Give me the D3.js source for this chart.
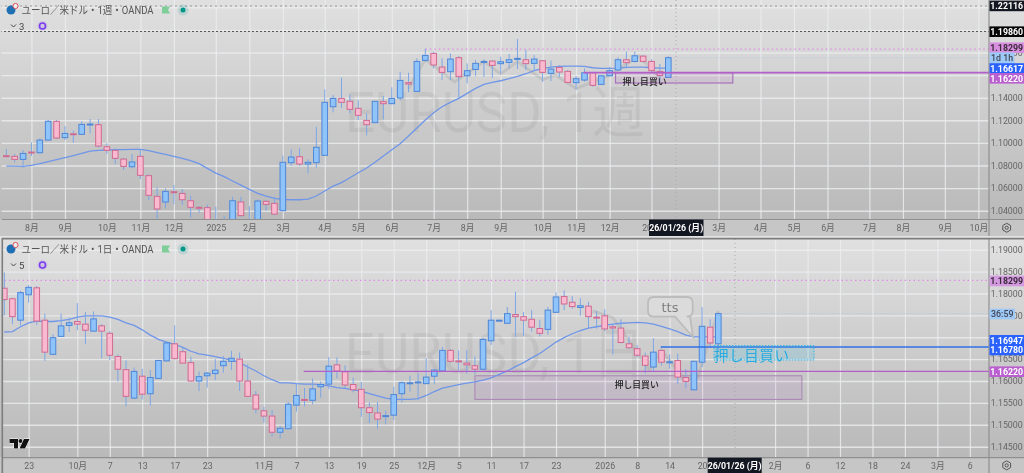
<!DOCTYPE html>
<html><head><meta charset="utf-8">
<script src="https://cdn.jsdelivr.net/npm/d3@7/dist/d3.min.js"></script>
<style>
html,body{margin:0;padding:0;background:#e4e4e4;overflow:hidden}
svg{display:block;filter:blur(.4px)}
text{font-family:Roboto,"Noto Sans CJK JP",sans-serif}
</style></head><body>
<svg id="c" width="1024" height="473"></svg>
<script>
// ---------- weekly chart ----------
const wkOpen=[1.0887,1.0881,1.0854,1.0919,1.0913,1.1025,1.1191,1.1046,1.1081,1.1076,
1.1161,1.1161,1.0966,1.0934,1.0857,1.0789,1.0881,1.0710,1.0527,1.0477,
1.0568,1.0553,1.0488,1.0430,1.0427,1.0199,1.0229,1.0258,1.0477,1.0229,
1.0288,1.0483,1.0465,1.0400,1.0825,1.0878,1.0813,1.0825,1.0890,1.1320,
1.1394,1.1368,1.1306,1.1199,1.1179,1.1365,1.1347,1.1397,1.1533,1.1456,
1.1730,1.1792,1.1671,1.1630,1.1754,1.1594,1.1650,1.1712,1.1724,1.1701,
1.1712,1.1739,1.1736,1.1704,1.1727,1.1615,1.1668,1.1633,1.1533,1.1556,
1.1621,1.1518,1.1594,1.1645,1.1736,1.1721,1.1768,1.1721,1.1633,1.1580];
const wkHigh=[1.0946,1.0902,1.0937,1.1002,1.1040,1.1202,1.1202,1.1149,1.1108,1.1191,
1.1211,1.1211,1.0996,1.0952,1.0866,1.0902,1.0937,1.0722,1.0606,1.0598,
1.0627,1.0592,1.0530,1.0441,1.0453,1.0435,1.0353,1.0524,1.0524,1.0441,
1.0500,1.0494,1.0524,1.0887,1.0943,1.0955,1.0854,1.1143,1.1474,1.1424,
1.1577,1.1430,1.1379,1.1261,1.1368,1.1415,1.1492,1.1630,1.1621,1.1748,
1.1833,1.1807,1.1748,1.1792,1.1768,1.1704,1.1733,1.1739,1.1733,1.1763,
1.1786,1.1919,1.1822,1.1777,1.1733,1.1727,1.1689,1.1645,1.1591,1.1659,
1.1630,1.1600,1.1674,1.1757,1.1807,1.1807,1.1777,1.1739,1.1698,1.1768];
const wkLow=[1.0872,1.0828,1.0780,1.0884,1.0907,1.1020,1.1037,1.1025,1.1002,1.1070,
1.1084,1.0960,1.0902,1.0813,1.0760,1.0775,1.0680,1.0494,1.0303,1.0421,
1.0459,1.0453,1.0338,1.0382,1.0199,1.0140,1.0199,1.0229,1.0347,1.0199,
1.0258,1.0400,1.0362,1.0394,1.0798,1.0798,1.0730,1.0780,1.0887,1.1270,
1.1309,1.1261,1.1202,1.1067,1.1179,1.1208,1.1347,1.1374,1.1448,1.1453,
1.1718,1.1659,1.1556,1.1556,1.1394,1.1527,1.1591,1.1586,1.1577,1.1609,
1.1659,1.1653,1.1645,1.1639,1.1541,1.1547,1.1580,1.1533,1.1474,1.1541,
1.1497,1.1512,1.1591,1.1639,1.1659,1.1712,1.1712,1.1621,1.1527,1.1577];
const wkClose=[1.0878,1.0854,1.0907,1.0913,1.1025,1.1191,1.1043,1.1084,1.1073,1.1164,
1.1167,1.0972,1.0934,1.0863,1.0792,1.0831,1.0713,1.0536,1.0415,1.0571,
1.0562,1.0497,1.0430,1.0421,1.0258,1.0288,1.0294,1.0488,1.0356,1.0288,
1.0486,1.0456,1.0370,1.0828,1.0875,1.0813,1.0828,1.0961,1.1359,1.1394,
1.1359,1.1297,1.1244,1.1161,1.1368,1.1347,1.1394,1.1553,1.1521,1.1721,
1.1774,1.1689,1.1624,1.1742,1.1586,1.1639,1.1704,1.1721,1.1686,1.1718,
1.1736,1.1748,1.1701,1.1742,1.1624,1.1653,1.1627,1.1535,1.1568,1.1621,
1.1509,1.1594,1.1639,1.1736,1.1710,1.1771,1.1721,1.1639,1.1597,1.1754];
const wkMA=[1.0795,1.0795,1.0792,1.0801,1.0816,1.0834,1.0851,1.0869,1.0887,1.0907,
1.0928,1.0934,1.0937,1.0940,1.0940,1.0943,1.0943,1.0931,1.0913,1.0899,
1.0881,1.0863,1.0843,1.0816,1.0775,1.0733,1.0701,1.0663,1.0627,1.0589,
1.0553,1.0530,1.0509,1.0500,1.0497,1.0497,1.0503,1.0530,1.0574,1.0618,
1.0648,1.0692,1.0736,1.0778,1.0828,1.0884,1.0940,1.0993,1.1061,1.1132,
1.1202,1.1267,1.1320,1.1359,1.1394,1.1438,1.1483,1.1518,1.1536,1.1550,
1.1568,1.1589,1.1612,1.1639,1.1659,1.1671,1.1677,1.1680,1.1680,1.1677,
1.1665,1.1659,1.1659,1.1662,1.1668,1.1671,1.1671,1.1665,1.1662,1.1662];
const wkTickIndex=[3,7,12,16,20,25,29,33,38,42,46,51,55,59,64,68,72,77,85,90,94,98,103,107,112,116];
const wkTickLabel=["8月","9月","10月","11月","12月","2025","2月","3月","4月","5月","6月","7月","8月","9月","10月","11月","12月","2026","3月","4月","5月","6月","7月","8月","9月","10月"];
const wkPriceTicks=[1.04,1.06,1.08,1.10,1.12,1.14,1.16,1.18,1.20,1.22];
const wkPriceLabelled=[1.04,1.06,1.08,1.10,1.12,1.14,1.18];
const wkZigIndex=[48,50,53.5,57,59,61,64,65.5,68,72,75.5,78];
const wkZigPrice=[1.148,1.174,1.154,1.172,1.161,1.172,1.156,1.160,1.148,1.160,1.177,1.158];

// ---------- daily chart ----------
const dyOpen=[1.1812,1.1788,1.1739,1.1797,1.1813,1.1739,1.1661,1.1702,1.1727,1.1736,
1.1730,1.1714,1.1726,1.1709,1.1656,1.1626,1.1561,1.1611,1.1571,1.1606,
1.1646,1.1685,1.1667,1.1642,1.1600,1.1612,1.1617,1.1635,1.1645,1.1650,
1.1600,1.1568,1.1532,1.1520,1.1483,1.1491,1.1545,1.1558,1.1556,1.1587,
1.1593,1.1637,1.1621,1.1592,1.1581,1.1539,1.1527,1.1520,1.1522,1.1571,
1.1594,1.1596,1.1594,1.1611,1.1623,1.1670,1.1646,1.1641,1.1635,1.1627,
1.1692,1.1737,1.1732,1.1752,1.1747,1.1741,1.1720,1.1718,1.1757,1.1793,
1.1780,1.1768,1.1771,1.1746,1.1749,1.1724,1.1721,1.1685,1.1674,1.1657,
1.1632,1.1670,1.1643,1.1647,1.1608,1.1580,1.1643,1.1723,1.1685];
const dyHigh=[1.1848,1.1790,1.1806,1.1819,1.1817,1.1754,1.1707,1.1754,1.1745,1.1778,
1.1758,1.1759,1.1730,1.1714,1.1661,1.1647,1.1631,1.1628,1.1625,1.1648,
1.1691,1.1727,1.1676,1.1656,1.1622,1.1621,1.1650,1.1657,1.1669,1.1665,
1.1638,1.1577,1.1541,1.1534,1.1498,1.1552,1.1593,1.1584,1.1606,1.1599,
1.1655,1.1654,1.1636,1.1608,1.1598,1.1551,1.1552,1.1532,1.1587,1.1599,
1.1612,1.1618,1.1652,1.1628,1.1678,1.1673,1.1670,1.1671,1.1656,1.1699,
1.1762,1.1740,1.1769,1.1804,1.1758,1.1762,1.1740,1.1769,1.1802,1.1807,
1.1794,1.1789,1.1781,1.1760,1.1764,1.1730,1.1741,1.1701,1.1682,1.1665,
1.1698,1.1671,1.1661,1.1663,1.1627,1.1646,1.1769,1.1741,1.1756];
const dyLow=[1.1750,1.1730,1.1727,1.1779,1.1728,1.1646,1.1660,1.1701,1.1712,1.1716,
1.1684,1.1713,1.1652,1.1648,1.1599,1.1542,1.1560,1.1558,1.1544,1.1606,
1.1645,1.1650,1.1640,1.1599,1.1577,1.1585,1.1602,1.1619,1.1625,1.1577,
1.1564,1.1526,1.1505,1.1473,1.1469,1.1491,1.1530,1.1542,1.1547,1.1562,
1.1581,1.1606,1.1584,1.1574,1.1518,1.1504,1.1491,1.1501,1.1511,1.1551,
1.1576,1.1556,1.1593,1.1593,1.1622,1.1642,1.1625,1.1617,1.1615,1.1625,
1.1682,1.1737,1.1731,1.1701,1.1703,1.1713,1.1702,1.1706,1.1756,1.1762,
1.1765,1.1749,1.1720,1.1720,1.1714,1.1660,1.1686,1.1673,1.1654,1.1617,
1.1623,1.1635,1.1628,1.1593,1.1583,1.1579,1.1632,1.1676,1.1669];
const dyClose=[1.1786,1.1747,1.1802,1.1814,1.1737,1.1666,1.1699,1.1726,1.1733,1.1730,
1.1716,1.1742,1.1714,1.1659,1.1627,1.1565,1.1622,1.1570,1.1608,1.1647,
1.1687,1.1651,1.1641,1.1600,1.1610,1.1618,1.1625,1.1645,1.1652,1.1600,
1.1565,1.1536,1.1520,1.1483,1.1492,1.1547,1.1567,1.1558,1.1582,1.1592,
1.1634,1.1623,1.1591,1.1580,1.1539,1.1528,1.1513,1.1521,1.1569,1.1596,
1.1596,1.1598,1.1609,1.1625,1.1670,1.1645,1.1644,1.1637,1.1627,1.1695,
1.1739,1.1739,1.1754,1.1747,1.1739,1.1723,1.1709,1.1762,1.1792,1.1776,
1.1770,1.1772,1.1747,1.1746,1.1719,1.1721,1.1688,1.1676,1.1659,1.1636,
1.1666,1.1643,1.1644,1.1609,1.1599,1.1645,1.1725,1.1687,1.1754];
const dyMA=[1.1712,1.1713,1.1724,1.1733,1.1737,1.1736,1.1736,1.1738,1.1741,1.1746,
1.1749,1.1749,1.1749,1.1746,1.1741,1.1733,1.1727,1.1717,1.1705,1.1695,
1.1689,1.1684,1.1677,1.1668,1.1662,1.1659,1.1656,1.1652,1.1648,1.1642,
1.1632,1.1623,1.1612,1.1603,1.1596,1.1596,1.1594,1.1593,1.1593,1.1592,
1.1589,1.1585,1.1583,1.1580,1.1577,1.1571,1.1566,1.1561,1.1558,1.1558,
1.1558,1.1560,1.1567,1.1576,1.1584,1.1588,1.1592,1.1595,1.1598,1.1602,
1.1607,1.1615,1.1623,1.1633,1.1642,1.1653,1.1663,1.1676,1.1689,1.1699,
1.1708,1.1715,1.1721,1.1724,1.1727,1.1730,1.1732,1.1733,1.1734,1.1733,
1.1730,1.1725,1.1719,1.1713,1.1705,1.1701,1.1701,1.1701,1.1701];
const dyTickIndex=[3,9,13,17,21,25,32,36,40,44,48,52,56,60,64,68,74,78,82,86,95,99,103,107,111,115,119];
const dyTickLabel=["23","10月","7","13","17","23","11月","7","13","19","25","12月","5","11","17","23","2026","8","14","20","2月","6","12","18","24","3月","6"];
const dyPriceTicks=[1.145,1.15,1.155,1.16,1.165,1.17,1.175,1.18,1.185,1.19];
const dyPriceLabelled=[1.145,1.15,1.155,1.16,1.165,1.175,1.18,1.185,1.19];
const dyZigIndex=[72.5,75,79.5,81,84,85.5,88];
const dyZigPrice=[1.1760,1.1745,1.1625,1.1670,1.1600,1.1610,1.1760];

const titles=["ユーロ／米ドル・1週・OANDA","ユーロ／米ドル・1日・OANDA"];
const watermarks=["EURUSD, 1週","EURUSD, 1日"];
const cursorLabel="26/01/26 (月)";
const zoneLabel="押し目買い";
const callout="tts";
const wkRefLevels=[1.22116,1.19860,1.18299,1.16220];
const dyRefLevels=[1.18299,1.16780,1.16220];
const zoneWkTop=1.1622, zoneWkBottom=1.1530;
const zoneDyTop=1.1612, zoneDyBottom=1.1558;
const zoneDyIndex=[58,98.3], zoneWkIndex=[72.7,86.7];

const svg=d3.select("#c");
const defs=svg.append("defs");
const g=defs.append("linearGradient").attr("id","bg").attr("x1",0).attr("x2",0).attr("y1",0).attr("y2",1);
g.append("stop").attr("offset",0).attr("stop-color","#e0e0e0");
g.append("stop").attr("offset",1).attr("stop-color","#b9b9b9");

const PINKF="#f9bad0",PINKS="#cf6a90",BLUEF="#8fc4fb",BLUES="#4f86d6",WICK="#7ea6e6",MA="#6f96e8",PUR="#b25fc9";

function pane(o){
  const G=svg.append("g");
  const [top,bot]=o.yExtent, R=989;
  G.append("rect").attr("x",0).attr("y",top).attr("width",1024).attr("height",bot-top).attr("fill","url(#bg)");
  G.append("rect").attr("x",0).attr("y",bot).attr("width",1024).attr("height",o.stripEnd-bot).attr("fill","#c6c6c6");
  const cid="clip"+o.key;
  defs.append("clipPath").attr("id",cid).append("rect").attr("x",o.left).attr("y",top).attr("width",R-o.left).attr("height",bot-top);
  const plot=G.append("g").attr("clip-path",`url(#${cid})`);
  const x=d3.scaleLinear().domain(o.xDomain).range(o.xRange);
  const y=d3.scaleLinear().domain(o.yDomain).range(o.yRange);
  // grid
  const gy=plot.append("g").call(d3.axisLeft(y).tickValues(o.priceTicks).tickSize(-R).tickFormat(""));
  gy.select(".domain").remove();
  gy.selectAll("line").attr("stroke","#eceef0").attr("stroke-width",1.4).attr("stroke-opacity",.8);
  const gx=plot.append("g").attr("transform",`translate(0,${bot})`).call(d3.axisBottom(x).tickValues(o.tickIndex).tickSize(-(bot-top)).tickFormat(""));
  gx.select(".domain").remove();
  gx.selectAll("line").attr("stroke","#eceef0").attr("stroke-width",1.2).attr("stroke-opacity",.8);
  // watermark
  plot.append("text").attr("x",345).attr("y",o.wmY).attr("font-size",56).attr("fill","#000").attr("fill-opacity",.05)
    .attr("textLength",300).attr("lengthAdjust","spacingAndGlyphs").text(o.watermark);
  // cursor vertical
  plot.append("line").attr("x1",o.cursorX).attr("x2",o.cursorX).attr("y1",top).attr("y2",bot)
    .attr("stroke","#aaa").attr("stroke-dasharray","1 3");
  // last price faint
  plot.append("line").attr("x1",o.xRange[1]).attr("x2",R).attr("y1",y(o.close[o.close.length-1])).attr("y2",y(o.close[o.close.length-1]))
    .attr("stroke","#9db8ec").attr("stroke-opacity",.5).attr("stroke-dasharray","1 2");
  // zigzag shadow
  plot.append("path").datum(o.zigIndex).attr("fill","none").attr("stroke","#8a8a8a").attr("stroke-opacity",.22).attr("stroke-width",3)
    .attr("d",d3.line().x(d=>x(d)).y((d,i)=>y(o.zigPrice[i])));
  o.under(plot,x,y,R);
  // MA
  plot.append("path").datum(o.ma).attr("fill","none").attr("stroke",MA).attr("stroke-width",1.3)
    .attr("d",d3.line().x((d,i)=>x(i)).y(d=>y(d)));
  // candles
  const n=o.close.map((c,i)=>i);
  plot.append("g").selectAll("line").data(n).join("line")
    .attr("x1",i=>x(i)).attr("x2",i=>x(i))
    .attr("y1",i=>y(o.high[i])).attr("y2",i=>y(o.low[i])).attr("stroke",WICK).attr("stroke-width",1);
  plot.append("g").selectAll("rect").data(n).join("rect")
    .attr("x",i=>x(i)-2.8).attr("width",5.6)
    .attr("y",i=>y(Math.max(o.open[i],o.close[i])))
    .attr("height",i=>Math.max(1,Math.abs(y(o.open[i])-y(o.close[i]))))
    .attr("fill",i=>o.close[i]>o.open[i]?BLUEF:PINKF)
    .attr("stroke",i=>o.close[i]>o.open[i]?BLUES:PINKS).attr("stroke-width",1);
  o.over(plot,x,y,R);
  // axes
  G.append("line").attr("x1",R).attr("x2",R).attr("y1",top).attr("y2",o.stripEnd).attr("stroke","#8f8f8f").attr("stroke-width",1.2);
  G.append("line").attr("x1",o.left).attr("x2",1024).attr("y1",bot).attr("y2",bot).attr("stroke","#8f8f8f").attr("stroke-width",1.2);
  const ay=G.append("g").attr("transform",`translate(${R},0)`).call(d3.axisRight(y).tickValues(o.priceLabelled).tickSize(0).tickFormat(d3.format(".5f")));
  ay.select(".domain").remove();
  ay.selectAll("text").attr("x",17.7).attr("text-anchor","middle").attr("font-size",8.8).attr("fill","#666");
  const ax=G.append("g").attr("transform",`translate(0,${bot})`).call(d3.axisBottom(x).tickValues(o.tickIndex).tickSize(0).tickFormat((d,i)=>o.tickLabel[i]));
  ax.select(".domain").remove();
  ax.selectAll("text").attr("y",5).attr("font-size",8.8).attr("fill","#666");
  // legend
  const ly=top+o.legendDy;
  G.append("circle").attr("cx",11).attr("cy",ly).attr("r",4.5).attr("fill","#1f6fb5");
  G.append("circle").attr("cx",15.5).attr("cy",ly-4).attr("r",2.6).attr("fill","#eee").attr("stroke","#d8505a").attr("stroke-width",1);
  G.append("text").attr("x",21.5).attr("y",ly+3.8).attr("font-size",10.5).attr("fill","#555")
    .attr("textLength",132).attr("lengthAdjust","spacingAndGlyphs").text(o.title);
  G.append("path").attr("d",`M162,${ly-3.5}h8l-2,3.5l2,3.5h-8z`).attr("fill","#7fce9a");
  G.append("circle").attr("cx",183).attr("cy",ly).attr("r",5.5).attr("fill","#009688").attr("fill-opacity",.15);
  G.append("circle").attr("cx",183).attr("cy",ly).attr("r",2.5).attr("fill","#009688");
  const l2=ly+16;
  G.append("path").attr("d",`M11,${l2-1.5}l2.5,2.5l2.5,-2.5`).attr("fill","none").attr("stroke","#444").attr("stroke-width",1);
  G.append("text").attr("x",19).attr("y",l2+3.5).attr("font-size",9.5).attr("fill","#444").text(o.count);
  G.append("circle").attr("cx",42.5).attr("cy",l2).attr("r",5).attr("fill","#a06cf0").attr("fill-opacity",.2);
  G.append("circle").attr("cx",42.5).attr("cy",l2).attr("r",3).attr("fill","none").attr("stroke","#7a3cf0").attr("stroke-width",1.6);
  // settings icon
  const iy=(bot+o.stripEnd)/2;
  const hex=d3.range(6).map(k=>[1006.7+4.5*Math.cos(Math.PI/6+k*Math.PI/3),iy+4.5*Math.sin(Math.PI/6+k*Math.PI/3)]);
  G.append("path").attr("d",d3.line()(hex)+"Z").attr("fill","none").attr("stroke","#555").attr("stroke-width",1);
  G.append("circle").attr("cx",1006.7).attr("cy",iy).attr("r",1.6).attr("fill","none").attr("stroke","#555").attr("stroke-width",1);
  // cursor label
  G.append("rect").attr("x",o.cursorBox[0]).attr("y",bot).attr("width",o.cursorBox[1]-o.cursorBox[0]).attr("height",o.stripEnd-bot).attr("fill","#131722");
  G.append("text").attr("x",(o.cursorBox[0]+o.cursorBox[1])/2).attr("y",(bot+o.stripEnd)/2+3.2).attr("text-anchor","middle").attr("font-size",8.8).attr("font-weight",700).attr("fill","#fff").text(cursorLabel);
  return {G,x,y};
}
function tag(G,cy,txt,bg,fg,w,bold){
  G.append("rect").attr("x",989.5).attr("y",cy-5.3).attr("width",w||34.5).attr("height",10.6).attr("fill",bg);
  G.append("text").attr("x",w?989.5+w/2:1006.7).attr("y",cy+3.2).attr("text-anchor","middle").attr("font-size",8.8).attr("font-weight",bold?700:500).attr("fill",fg).text(txt);
}

const wk=pane({key:"w",left:1.5,yExtent:[0,219.5],stripEnd:236,xDomain:[0,79],xRange:[6.3,668.3],
  yDomain:[1.04,1.14],yRange:[210.7,97.7],priceTicks:wkPriceTicks,priceLabelled:wkPriceLabelled,tickIndex:wkTickIndex,tickLabel:wkTickLabel,
  open:wkOpen,high:wkHigh,low:wkLow,close:wkClose,ma:wkMA,zigIndex:wkZigIndex,zigPrice:wkZigPrice,
  wmY:132,watermark:watermarks[0],title:titles[0],count:"3",cursorX:676,cursorBox:[649,703.5],legendDy:10,
  under(p,x,y,R){
    p.append("line").attr("x1",0).attr("x2",R).attr("y1",y(wkRefLevels[0])).attr("y2",y(wkRefLevels[0])).attr("stroke","#999").attr("stroke-dasharray","2 3");
    p.append("line").attr("x1",0).attr("x2",R).attr("y1",y(wkRefLevels[1])).attr("y2",y(wkRefLevels[1])).attr("stroke","#555").attr("stroke-dasharray","2 2");
    p.append("line").attr("x1",x(50)).attr("x2",R).attr("y1",y(wkRefLevels[2])).attr("y2",y(wkRefLevels[2])).attr("stroke","#e28ae8").attr("stroke-width",1.2).attr("stroke-dasharray","1.5 3");
  },
  over(p,x,y,R){
    p.append("rect").attr("x",x(zoneWkIndex[0])).attr("width",x(zoneWkIndex[1])-x(zoneWkIndex[0])).attr("y",y(zoneWkTop)).attr("height",y(zoneWkBottom)-y(zoneWkTop))
      .attr("fill",PUR).attr("fill-opacity",.12).attr("stroke","#a872bc").attr("stroke-width",1.2);
    p.append("line").attr("x1",x(68.9)).attr("x2",R).attr("y1",y(wkRefLevels[3])).attr("y2",y(wkRefLevels[3])).attr("stroke",PUR).attr("stroke-width",1.6);
    p.append("text").attr("x",644.5).attr("y",85.3).attr("text-anchor","middle").attr("font-size",8.8).attr("font-weight",500).attr("fill","#222").text(zoneLabel);
  }});
tag(wk.G,5.9,"1.22116","#131722","#fff",0,true);
tag(wk.G,31.7,"1.19860","#050505","#fff",0,true);
tag(wk.G,47.7,"1.18299","#d98fdf","#3a2a3a",0,true);
tag(wk.G,57.7,"1d 1h","#9cc9f6","#445",25);
tag(wk.G,68.5,"1.16617","#2962ff","#fff",0,true);
tag(wk.G,78.3,"1.16220","#b95fcf","#fff",0,true);

const dy=pane({key:"d",left:2.5,yExtent:[239,457.7],stripEnd:473,xDomain:[0,88],xRange:[4.3,718.3],
  yDomain:[1.145,1.19],yRange:[446.7,249.7],priceTicks:dyPriceTicks,priceLabelled:dyPriceLabelled,tickIndex:dyTickIndex,tickLabel:dyTickLabel,
  open:dyOpen,high:dyHigh,low:dyLow,close:dyClose,ma:dyMA,zigIndex:dyZigIndex,zigPrice:dyZigPrice,
  wmY:373,watermark:watermarks[1],title:titles[1],count:"5",cursorX:735,cursorBox:[707.7,761.7],legendDy:10,
  under(p,x,y,R){
    p.append("line").attr("x1",0).attr("x2",R).attr("y1",y(dyRefLevels[0])).attr("y2",y(dyRefLevels[0])).attr("stroke","#e28ae8").attr("stroke-width",1.2).attr("stroke-dasharray","1.5 3");
    p.append("rect").attr("x",x(zoneDyIndex[0])).attr("width",x(zoneDyIndex[1])-x(zoneDyIndex[0])).attr("y",y(zoneDyTop)).attr("height",y(zoneDyBottom)-y(zoneDyTop))
      .attr("fill",PUR).attr("fill-opacity",.1).attr("stroke","#a985b5").attr("stroke-width",1);
    p.append("text").attr("x",636.7).attr("y",388.2).attr("text-anchor","middle").attr("font-size",8.8).attr("font-weight",500).attr("fill","#222").text(zoneLabel);
  },
  over(p,x,y,R){
    p.append("line").attr("x1",x(36.9)).attr("x2",R).attr("y1",y(dyRefLevels[2])).attr("y2",y(dyRefLevels[2])).attr("stroke",PUR).attr("stroke-width",1.4);
    p.append("line").attr("x1",x(80.9)).attr("x2",R).attr("y1",y(dyRefLevels[1])).attr("y2",y(dyRefLevels[1])).attr("stroke","#2f6fe4").attr("stroke-width",1.5);
    // cyan zone
    p.append("rect").attr("x",714).attr("y",345.7).attr("width",100).attr("height",14.3).attr("fill","#29b6e6").attr("fill-opacity",.17)
      .attr("stroke","#29b6e6").attr("stroke-width",1).attr("stroke-dasharray","1.5 1.5");
    p.append("text").attr("x",714).attr("y",361).attr("font-size",14.5).attr("letter-spacing",.6).attr("fill","#27ace0").text(zoneLabel);
    // callout
    const c=d3.path();
    const L=648,T=297,Rr=692.7,B=316.7,r=6;
    c.moveTo(L+r,T);c.lineTo(Rr-r,T);c.quadraticCurveTo(Rr,T,Rr,T+r);c.lineTo(Rr,B-r);c.quadraticCurveTo(Rr,B,Rr-r,B);
    c.lineTo(690,B);c.lineTo(693,337);c.lineTo(675,B);c.lineTo(L+r,B);c.quadraticCurveTo(L,B,L,B-r);c.lineTo(L,T+r);c.quadraticCurveTo(L,T,L+r,T);c.closePath();
    p.append("path").attr("d",c.toString()).attr("fill","#dbdbdb").attr("stroke","#bcbcbc").attr("stroke-width",1.8);
    p.append("text").attr("x",670).attr("y",312).attr("text-anchor","middle").attr("font-size",13).attr("fill","#808080").style("font-family","'DejaVu Sans'").text(callout);
  }});
tag(dy.G,281,"1.18299","#d39ae0","#3a2a3a",0,true);
tag(dy.G,314,"36:59","#9cc9f6","#445",25.5);
tag(dy.G,340.3,"1.16947","#2962ff","#fff",0,true);
tag(dy.G,350,"1.16780","#2962ff","#fff",0,true);
tag(dy.G,371.7,"1.16220","#b95fcf","#fff",0,true);
// frame of the lower pane
dy.G.append("path").attr("d","M2.3,473V238.6H1024").attr("fill","none").attr("stroke","#7d7d7d").attr("stroke-width",1.6);
// TradingView mark
const tv=svg.append("g").attr("transform","translate(9,438.5)");
const tvMark=tv.append("g").attr("fill","#111").attr("stroke","#fff").attr("stroke-width",1).attr("paint-order","stroke");
tvMark.append("path").attr("d","M0.5,0.5h8.5v9.5h-4v-5.5h-4.5z");
tvMark.append("circle").attr("cx",11.5).attr("cy",2.5).attr("r",2);
tvMark.append("path").attr("d","M15,0.5h5.5l-4.5,9.5h-5.5z");
</script>
</body></html>
